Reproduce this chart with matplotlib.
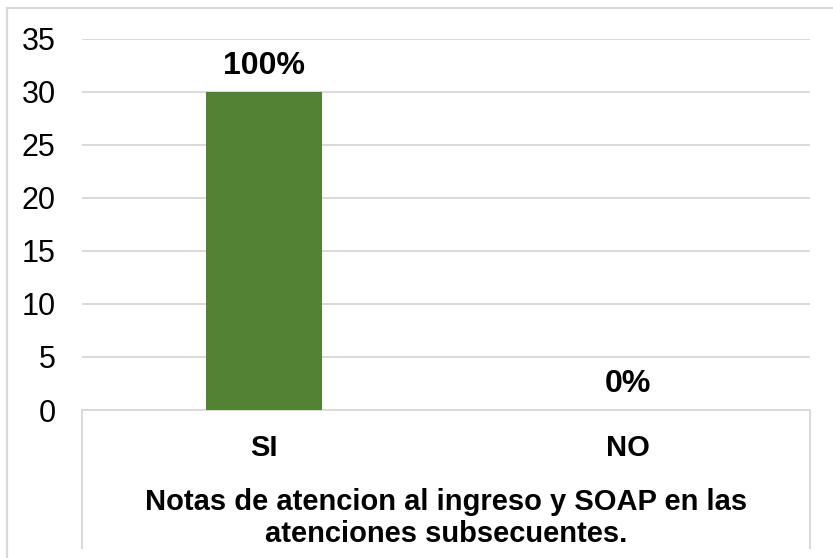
import matplotlib
matplotlib.use("Agg")
import matplotlib.pyplot as plt
from matplotlib.patches import Rectangle
from matplotlib.lines import Line2D

plt.rcParams['font.family'] = ['Liberation Sans', 'DejaVu Sans']

# Data
categories = ["SI", "NO"]
values = [30, 0]
labels = ["100%", "0%"]
y_ticks = [0, 5, 10, 15, 20, 25, 30, 35]
title = "Notas de atencion al ingreso y SOAP en las\natenciones subsecuentes."

W, H = 833, 558
fig = plt.figure(figsize=(W / 100, H / 100), dpi=100)
ax = fig.add_axes([82 / W, 1 - 410 / H, (810 - 82) / W, (410 - 38.5) / H])

x = range(len(categories))
bars = ax.bar(x, values, width=0.316, color="#548235", zorder=3)

for b, lab in zip(bars, labels):
    ax.annotate(lab, (b.get_x() + b.get_width() / 2, b.get_height()),
                xytext=(0, 13), textcoords="offset points",
                ha="center", va="baseline", fontsize=23, fontweight="bold")

ax.set_xlim(-0.5, len(categories) - 0.5)
ax.set_ylim(0, 35)
ax.set_yticks(y_ticks)
ax.tick_params(axis="y", length=0, labelsize=22, pad=19)
ax.yaxis.grid(True, color="#d9d9d9", linewidth=1.4, zorder=0)
ax.set_axisbelow(True)

ax.set_xticks(list(x))
ax.set_xticklabels(categories, fontsize=21, fontweight="bold")
ax.tick_params(axis="x", length=0, pad=17)

for s in ["top", "right", "left"]:
    ax.spines[s].set_visible(False)
ax.spines["bottom"].set_color("#d9d9d9")
ax.spines["bottom"].set_linewidth(1.4)

# separators below the category axis
for xv in [0, 1]:
    ax.add_line(Line2D([xv, xv], [0, -(548 - 410) / 371.5], transform=ax.transAxes,
                       color="#d9d9d9", linewidth=1.4, clip_on=False))

fig.text(446 / W, 1 - 542 / H, title, ha="center", va="baseline",
         fontsize=21, fontweight="bold", linespacing=1.2)

# chart border
fig.add_artist(Rectangle((7 / W, -0.1), 1.2, 1 - 8 / H + 0.1, transform=fig.transFigure,
                         fill=False, edgecolor="#d9d9d9", linewidth=1.6))

fig.savefig("out.png", dpi=100)
